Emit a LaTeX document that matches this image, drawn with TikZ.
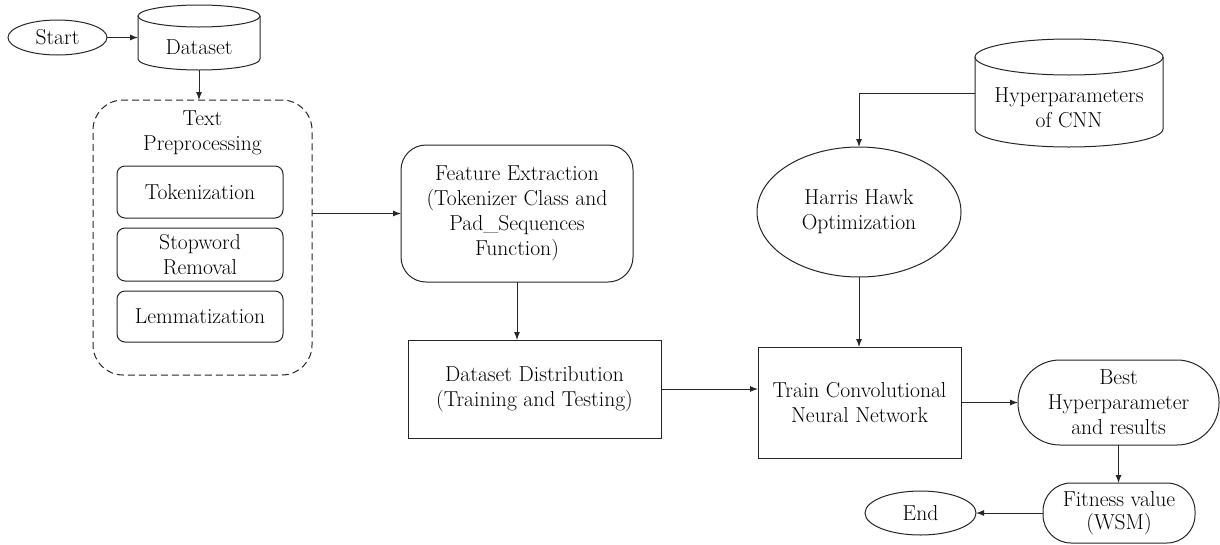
\documentclass[tikz,border=0pt]{standalone}
\usepackage{fontspec}
\usetikzlibrary{shapes.geometric,arrows.meta}
\begin{document}
\begin{tikzpicture}[x=1pt,y=-1pt,
  every node/.style={font=\rmfamily\fontsize{21.6}{25}\selectfont, text=black, align=center, inner sep=0pt, outer sep=0pt},
  ln/.style={draw=black!85, line width=1pt},
  arr/.style={ln, -{Latex[length=8pt,width=6pt]}},
  rbox/.style={ln, rectangle, rounded corners=#1},
  oval/.style={ln, ellipse},
  ghost/.style={rectangle}
]
\useasboundingbox (0,0) rectangle (1220,544);

% Start
\node[oval, minimum width=99pt, minimum height=35pt] (start) at (57.5,37.5) {Start};

% Dataset cylinder
\node[ghost, minimum width=122pt, minimum height=65pt] (dataset) at (199,37.5) {};
\draw[ln] (199,16) ellipse[x radius=61pt, y radius=11pt];
\draw[ln] (138,16) -- (138,59) arc[start angle=180, end angle=360, x radius=61pt, y radius=11pt] -- (260,16);
\node (dslabel) at (199,47) {Dataset};

% Text preprocessing
\node[ln, dashed, dash pattern=on 7pt off 4pt, rectangle, rounded corners=30pt, minimum width=219pt, minimum height=275pt] (tp) at (202.5,237.5) {};
\node (tptitle) at (202.5,132.5) {Text\\Preprocessing};
\node[rbox=8pt, minimum width=166pt, minimum height=52pt] (tok) at (200,192) {Tokenization};
\node[rbox=8pt, minimum width=166pt, minimum height=53pt] (stop) at (200,254.5) {Stopword\\Removal};
\node[rbox=8pt, minimum width=166pt, minimum height=51pt] (lem) at (200,316.5) {Lemmatization};

% Feature extraction
\node[rbox=25pt, minimum width=232pt, minimum height=137pt] (fe) at (517,213.5) {Feature Extraction\\(Tokenizer Class and\\Pad\_Sequences\\Function)};

% Dataset distribution
\node[ln, rectangle, minimum width=253pt, minimum height=98pt] (dd) at (534.5,389) {Dataset Distribution\\(Training and Testing)};

% Hyperparameters cylinder
\node[ghost, minimum width=188pt, minimum height=108pt] (hyper) at (1069,93) {};
\draw[ln] (1069,57) ellipse[x radius=94pt, y radius=18pt];
\draw[ln] (975,57) -- (975,129) arc[start angle=180, end angle=360, x radius=94pt, y radius=18pt] -- (1163,57);
\node (hylabel) at (1069,107.5) {Hyperparameters\\of CNN};

% HHO
\node[oval, minimum width=204pt, minimum height=130pt] (hho) at (859,212) {Harris Hawk\\Optimization};

% Train CNN
\node[ln, rectangle, minimum width=203pt, minimum height=111pt] (train) at (859.5,402.5) {Train Convolutional\\Neural Network};

% Best
\node[rbox=42pt, minimum width=201pt, minimum height=85pt] (best) at (1118.5,402.5) {Best\\Hyperparameter\\and results};

% Fitness
\node[rbox=28pt, minimum width=152pt, minimum height=60pt, font=\rmfamily\fontsize{21.6}{23}\selectfont] (fit) at (1119,513) {Fitness value\\(WSM)};

% End
\node[oval, minimum width=111pt, minimum height=44pt] (endn) at (920.5,513) {End};

% Connectors
\draw[arr] (start.east) -- (dataset.west);
\draw[arr] (dataset.south) -- (dataset.south |- tp.north);
\draw[arr] (tp.east |- fe.west) -- (fe.west);
\draw[arr] (fe.south) -- (fe.south |- dd.north);
\draw[arr] (dd.east) -- (dd.east -| train.west);
\draw[arr] (hyper.west) -| (hho.north);
\draw[arr] (hho.south) -- (hho.south |- train.north);
\draw[arr] (train.east) -- (best.west);
\draw[arr] (best.south) -- (best.south |- fit.north);
\draw[arr] (fit.west) -- (endn.east);
\end{tikzpicture}
\end{document}
